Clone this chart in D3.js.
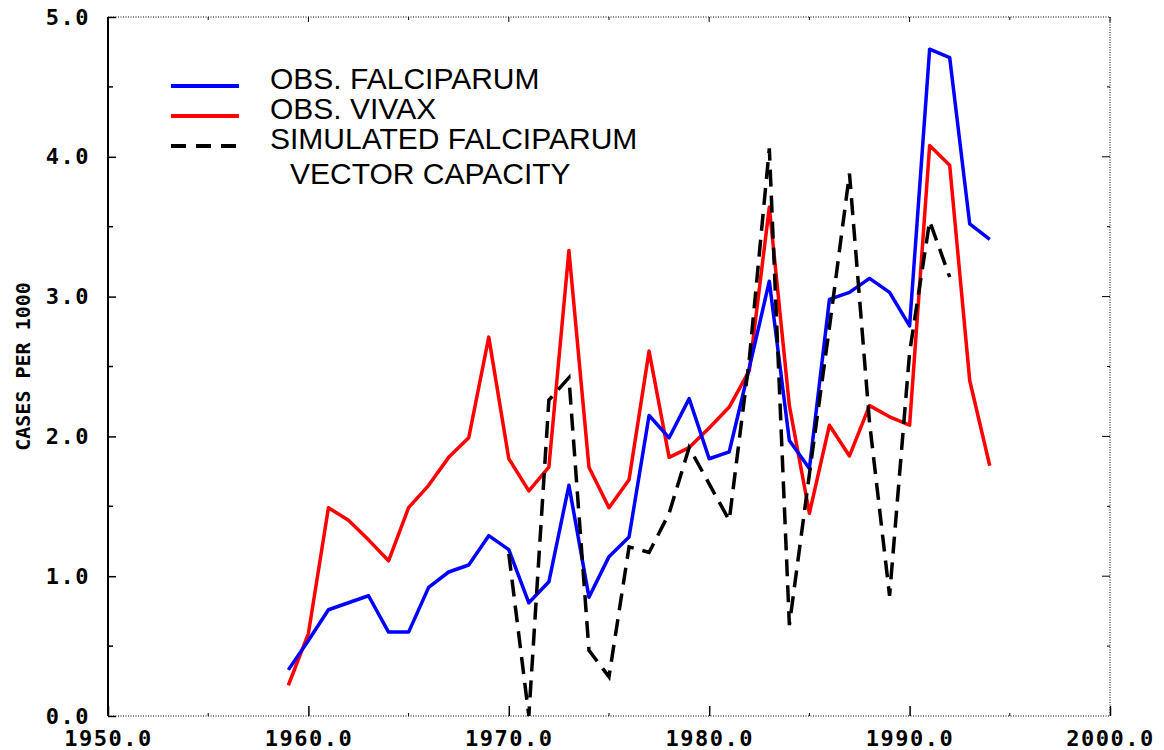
<!DOCTYPE html>
<html>
<head>
<meta charset="utf-8">
<script src="https://cdn.jsdelivr.net/npm/d3@7"></script>
<style>
  body { margin: 0; background: #fff; }
</style>
</head>
<body>
<div id="chart"></div>
<script>
// 1. DATA
const obsYears = d3.range(1959, 1995)
const falciparum = [0.33, 0.54, 0.76, 0.81, 0.86, 0.60, 0.60, 0.92, 1.03, 1.08,
    1.29, 1.19, 0.81, 0.96, 1.65, 0.85, 1.14, 1.28, 2.15, 1.99,
    2.27, 1.84, 1.89, 2.49, 3.11, 1.97, 1.77, 2.98, 3.03, 3.13,
    3.03, 2.79, 4.77, 4.71, 3.52, 3.41]
const vivax = [0.22, 0.59, 1.49, 1.40, 1.26, 1.11, 1.49, 1.65, 1.85, 1.99,
    2.71, 1.84, 1.61, 1.78, 3.33, 1.78, 1.49, 1.69, 2.61, 1.85,
    1.92, 2.06, 2.21, 2.47, 3.64, 2.22, 1.45, 2.08, 1.86, 2.22,
    2.14, 2.08, 4.08, 3.94, 2.40, 1.79]
const simYears = d3.range(1970, 1993)
const simulated = [1.16, 0.00, 2.26, 2.42, 0.47, 0.28, 1.21, 1.17, 1.45, 1.92,
    1.66, 1.40, 2.55, 4.06, 0.65, 1.73, 2.78, 3.88, 2.10, 0.86,
    2.60, 3.54, 3.14]

const xTicks = [1950, 1960, 1970, 1980, 1990, 2000]
const yTicks = [0, 1, 2, 3, 4, 5]
const legendItems = [
    { label: "OBS. FALCIPARUM", color: "#0000ff", dash: null },
    { label: "OBS. VIVAX", color: "#ff0000", dash: null },
    { label: "SIMULATED FALCIPARUM", color: "#000000", dash: "15 10" },
]
const legendExtra = "VECTOR CAPACITY"

// 2. DIMENSIONS
const dimensions = {
    width: 1164,
    height: 750,
    margin: { top: 17, right: 54, bottom: 34, left: 108 }
}
dimensions.boundedWidth = dimensions.width - dimensions.margin.left
    - dimensions.margin.right
dimensions.boundedHeight = dimensions.height - dimensions.margin.top
    - dimensions.margin.bottom

// 3. DRAW CANVAS
const wrapper = d3.select("#chart")
    .append("svg")
    .attr("width", dimensions.width)
    .attr("height", dimensions.height)

const bounds = wrapper.append("g")
    .attr("transform", `translate(${dimensions.margin.left},${dimensions.margin.top})`)

// 4. SCALES
const xScale = d3.scaleLinear()
    .domain([1950, 2000])
    .range([0, dimensions.boundedWidth])
const yScale = d3.scaleLinear()
    .domain([0, 5])
    .range([dimensions.boundedHeight, 0])

const tickFont = "'DejaVu Sans Mono', monospace"

// 5. PERIPHERALS (frame + ticks)
const dotted = "1 1.5"
// top, right, bottom dotted frame
bounds.append("line")
    .attr("x1", 0).attr("x2", dimensions.boundedWidth)
    .attr("y1", 0).attr("y2", 0)
    .attr("stroke", "#000").attr("stroke-dasharray", dotted)
bounds.append("line")
    .attr("x1", dimensions.boundedWidth).attr("x2", dimensions.boundedWidth)
    .attr("y1", 0).attr("y2", dimensions.boundedHeight)
    .attr("stroke", "#000").attr("stroke-dasharray", dotted)
bounds.append("line")
    .attr("x1", 0).attr("x2", dimensions.boundedWidth)
    .attr("y1", dimensions.boundedHeight).attr("y2", dimensions.boundedHeight)
    .attr("stroke", "#000").attr("stroke-dasharray", dotted)

// bottom axis with inward ticks
const xAxisGenerator = d3.axisBottom(xScale)
    .tickValues(xTicks)
    .tickSize(-10)
    .tickPadding(14)
    .tickFormat(d => d3.format(".1f")(d))
const xAxis = bounds.append("g")
    .attr("transform", `translate(0,${dimensions.boundedHeight})`)
    .call(xAxisGenerator)
xAxis.select(".domain").remove()
xAxis.selectAll(".tick line").attr("stroke-width", 1.5)
xAxis.selectAll("text")
    .attr("fill", "#000")
    .style("font-family", tickFont)
    .style("font-weight", "bold")
    .style("font-size", "22px")
    .style("letter-spacing", "1.5px")

// minor bottom ticks
bounds.selectAll(".x-minor")
    .data(d3.range(1955, 2000, 10))
    .enter().append("line")
    .attr("x1", d => xScale(d)).attr("x2", d => xScale(d))
    .attr("y1", dimensions.boundedHeight).attr("y2", dimensions.boundedHeight - 3)
    .attr("stroke", "#000")

// top ticks
bounds.selectAll(".x-top")
    .data(d3.range(1950, 2001, 5))
    .enter().append("line")
    .attr("x1", d => xScale(d)).attr("x2", d => xScale(d))
    .attr("y1", 0).attr("y2", d => d % 10 === 0 ? 5 : 3)
    .attr("stroke", "#000")

// left axis solid, inward ticks
const yAxisGenerator = d3.axisLeft(yScale)
    .tickValues(yTicks)
    .tickSize(-8)
    .tickPadding(18)
    .tickFormat(d => d3.format(".1f")(d))
const yAxis = bounds.append("g")
    .call(yAxisGenerator)
yAxis.select(".domain")
    .attr("d", `M0,0V${dimensions.boundedHeight}`)
    .attr("stroke-width", 2)
yAxis.selectAll(".tick line").attr("stroke-width", 1.5)
yAxis.selectAll("text")
    .attr("fill", "#000")
    .style("font-family", tickFont)
    .style("font-weight", "bold")
    .style("font-size", "22px")
    .style("letter-spacing", "1.5px")

bounds.selectAll(".y-minor")
    .data(d3.range(0.5, 5, 1))
    .enter().append("line")
    .attr("x1", 0).attr("x2", 5)
    .attr("y1", d => yScale(d)).attr("y2", d => yScale(d))
    .attr("stroke", "#000").attr("stroke-width", 1.5)

// right ticks
bounds.selectAll(".y-right")
    .data(d3.range(0.5, 5, 0.5))
    .enter().append("line")
    .attr("x1", dimensions.boundedWidth)
    .attr("x2", d => dimensions.boundedWidth - (d % 1 === 0 ? 8 : 3))
    .attr("y1", d => yScale(d)).attr("y2", d => yScale(d))
    .attr("stroke", "#000")

// y axis label
wrapper.append("text")
    .attr("transform", `translate(30, ${dimensions.margin.top + yScale(2.5)}) rotate(-90)`)
    .attr("text-anchor", "middle")
    .style("font-family", tickFont)
    .style("font-weight", "bold")
    .style("font-size", "20px")
    .text("CASES PER 1000")

// 6. DRAW DATA
const lineGenerator = d3.line()
    .x(d => xScale(d[0]))
    .y(d => yScale(d[1]))

bounds.append("path")
    .datum(d3.zip(obsYears, vivax))
    .attr("d", lineGenerator)
    .attr("fill", "none")
    .attr("stroke", "#ff0000")
    .attr("stroke-width", 3.5)
    .attr("stroke-linejoin", "round")

bounds.append("path")
    .datum(d3.zip(obsYears, falciparum))
    .attr("d", lineGenerator)
    .attr("fill", "none")
    .attr("stroke", "#0000ff")
    .attr("stroke-width", 3.5)
    .attr("stroke-linejoin", "round")

bounds.append("path")
    .datum(d3.zip(simYears, simulated))
    .attr("d", lineGenerator)
    .attr("fill", "none")
    .attr("stroke", "#000")
    .attr("stroke-width", 3.5)
    .attr("stroke-dasharray", "17 9")

// 7. LEGEND
const legend = wrapper.append("g")
const legendRows = legend.selectAll("g")
    .data(legendItems)
    .enter().append("g")
    .attr("transform", (d, i) => `translate(0, ${86 + i * 30})`)
legendRows.append("line")
    .attr("x1", 171).attr("x2", 239)
    .attr("stroke", d => d.color)
    .attr("stroke-width", 4)
    .attr("stroke-dasharray", d => d.dash)
legendRows.append("text")
    .attr("x", 270)
    .attr("y", 3)
    .style("font-family", "'Liberation Sans', Arial, sans-serif")
    .style("font-size", "30px")
    .text(d => d.label)
legend.append("text")
    .attr("x", 290)
    .attr("y", 184)
    .style("font-family", "'Liberation Sans', Arial, sans-serif")
    .style("font-size", "30px")
    .text(legendExtra)
</script>
</body>
</html>
